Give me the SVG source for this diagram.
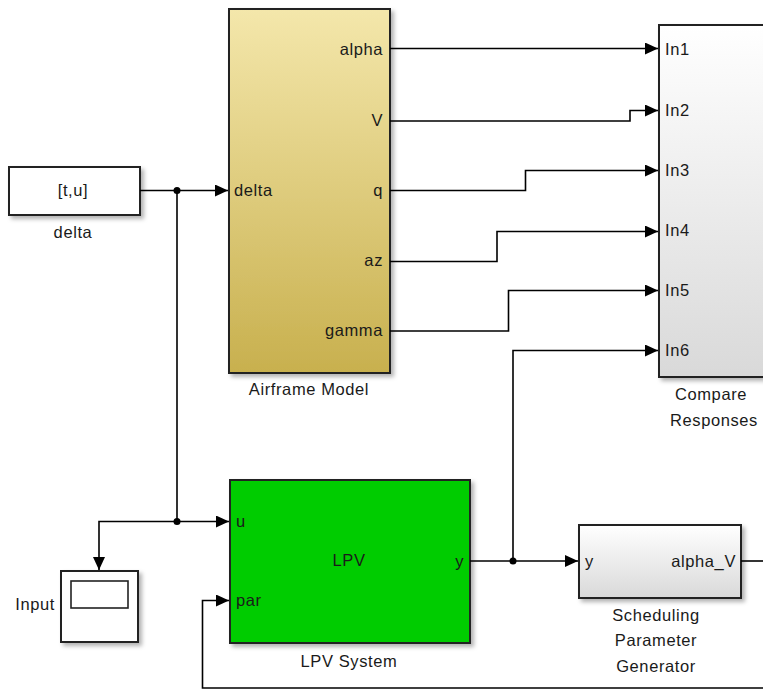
<svg xmlns="http://www.w3.org/2000/svg" width="763" height="690" viewBox="0 0 763 690">
<defs>
<linearGradient id="gAir" x1="0" y1="0" x2="0" y2="1">
<stop offset="0" stop-color="#f4e7ab"/>
<stop offset="1" stop-color="#c8b04e"/>
</linearGradient>
<linearGradient id="gGray" x1="0" y1="0" x2="0" y2="1">
<stop offset="0" stop-color="#ffffff"/>
<stop offset="1" stop-color="#d9d9d9"/>
</linearGradient>
<filter id="sh" x="-10%" y="-10%" width="130%" height="130%">
<feDropShadow dx="3" dy="3" stdDeviation="2" flood-color="#000" flood-opacity="0.3"/>
</filter>
<marker id="arr" viewBox="0 0 13 12" refX="13" refY="6" markerWidth="13" markerHeight="12" markerUnits="userSpaceOnUse" orient="auto">
<path d="M0,0 L13,6 L0,12 Z" fill="#000"/>
</marker>
</defs>
<style>
.blk{stroke:#222;stroke-width:2;filter:url(#sh)}
text{font-family:"Liberation Sans",Arial,sans-serif;font-size:16.5px;letter-spacing:0.6px;fill:#1a1a1a}
.lbl{text-anchor:middle}
.r{text-anchor:end}
.w{fill:none;stroke:#000;stroke-width:1.6}
</style>
<g id="delta">
<rect class="blk" x="9" y="167" width="131" height="48" fill="#fff"/>
<text class="lbl" x="73" y="196">[t,u]</text>
<text class="lbl" x="73" y="238">delta</text>
</g>
<g id="airframe">
<rect class="blk" x="229" y="9" width="161" height="364" fill="url(#gAir)"/>
<text x="234" y="196">delta</text>
<text class="r" x="383" y="55">alpha</text>
<text class="r" x="383" y="126">V</text>
<text class="r" x="383" y="196">q</text>
<text class="r" x="383" y="266">az</text>
<text class="r" x="383" y="336">gamma</text>
<text class="lbl" x="309" y="395">Airframe Model</text>
</g>
<g id="compare">
<rect class="blk" x="659" y="25" width="120" height="352" fill="url(#gGray)"/>
<text x="665" y="55">In1</text>
<text x="665" y="116">In2</text>
<text x="665" y="176">In3</text>
<text x="665" y="236">In4</text>
<text x="665" y="296">In5</text>
<text x="665" y="356">In6</text>
<text class="lbl" x="711" y="400">Compare</text>
<text class="lbl" x="714" y="426">Responses</text>
</g>
<g id="lpv">
<rect class="blk" x="230" y="480" width="240" height="163" fill="#00cc00"/>
<text x="236" y="527">u</text>
<text x="236" y="606">par</text>
<text class="r" x="464" y="567">y</text>
<text class="lbl" x="349" y="566">LPV</text>
<text class="lbl" x="349" y="667">LPV System</text>
</g>
<g id="input">
<rect class="blk" x="61" y="571" width="77" height="71" fill="#fff"/>
<rect x="71" y="581" width="57" height="27" fill="#fff" stroke="#222" stroke-width="1.6"/>
<text class="r" x="55" y="610">Input</text>
</g>
<g id="scheduling">
<rect class="blk" x="579" y="525" width="162" height="73" fill="url(#gGray)"/>
<text x="585" y="567">y</text>
<text class="r" x="736" y="567">alpha_V</text>
<text class="lbl" x="656" y="621">Scheduling</text>
<text class="lbl" x="656" y="646">Parameter</text>
<text class="lbl" x="656" y="672">Generator</text>
</g>
<g id="connectors">
<path class="w" d="M140,190.5 H228" marker-end="url(#arr)"/>
<path class="w" d="M177,190.5 V521.5 H229" marker-end="url(#arr)"/>
<path class="w" d="M177,521.5 H99 V570" marker-end="url(#arr)"/>
<path class="w" d="M390,48.5 H658" marker-end="url(#arr)"/>
<path class="w" d="M390,121 H630 V110.5 H658" marker-end="url(#arr)"/>
<path class="w" d="M390,190.5 H525.5 V170.5 H658" marker-end="url(#arr)"/>
<path class="w" d="M390,261.5 H497 V231.5 H658" marker-end="url(#arr)"/>
<path class="w" d="M390,331 H508.5 V290.5 H658" marker-end="url(#arr)"/>
<path class="w" d="M470,561 H578" marker-end="url(#arr)"/>
<path class="w" d="M513,561 V350.5 H658" marker-end="url(#arr)"/>
<path class="w" d="M741,561 H763"/>
<path class="w" d="M763,688 H202.5 V600.5 H229" marker-end="url(#arr)"/>
<circle cx="177" cy="190.5" r="3.5" fill="#000"/>
<circle cx="177" cy="521.5" r="3.5" fill="#000"/>
<circle cx="513" cy="561" r="3.5" fill="#000"/>
</g>
</svg>
